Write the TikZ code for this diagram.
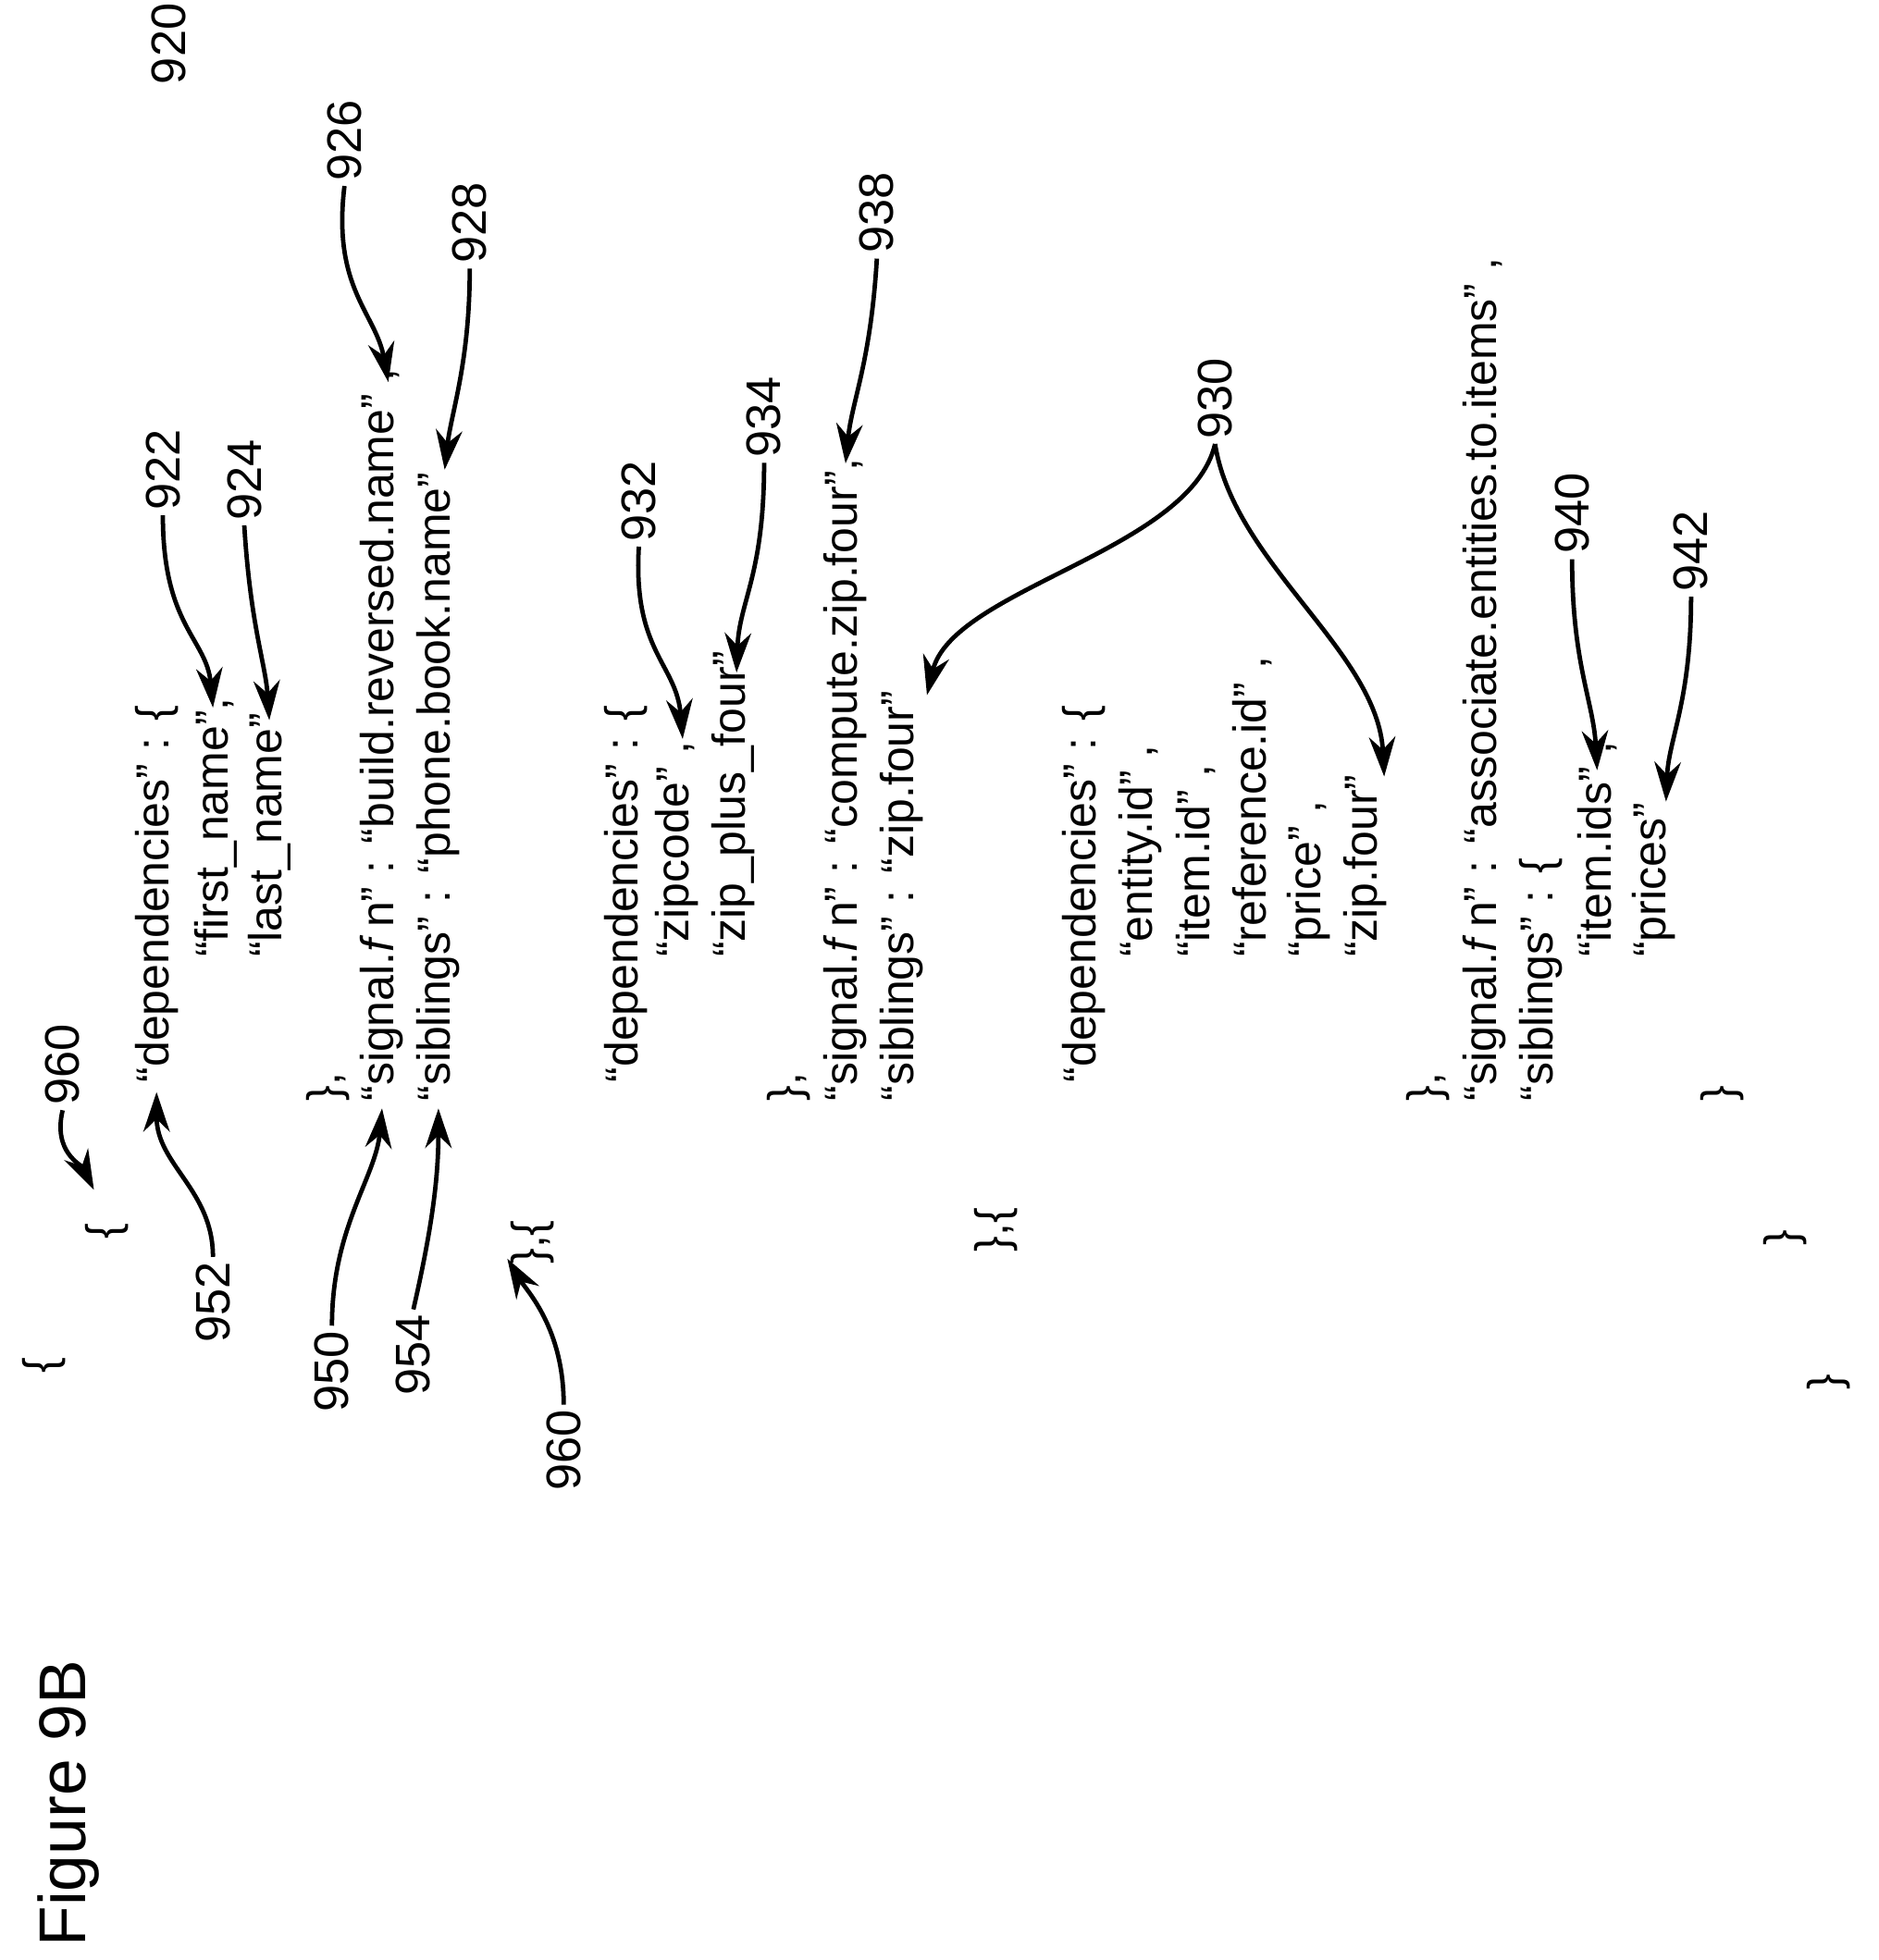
\documentclass[tikz,border=0pt]{standalone}
\usepackage{fontspec}
\setmainfont{Liberation Sans}
\usetikzlibrary{arrows.meta}
\begin{document}
\begin{tikzpicture}[x=0.01cm,y=-0.01cm,
  txt/.style={rotate=90,anchor=west,inner sep=0pt,font=\fontsize{10.5}{12}\selectfont},
  lbl/.style={rotate=90,anchor=center,inner sep=1pt,font=\fontsize{11}{13}\selectfont},
  ptr/.style={-{Stealth[length=9pt,width=6pt]},line width=1pt}]
\useasboundingbox (0,0) rectangle (1500,1565);
\newcommand{\sfn}{\textit{f}\,n}
% code text
\node[txt] (b0) at (35,1097) {\{};
\node[txt] (b1) at (85,990) {\{};
\node[txt] (d1) at (125,865) {“dependencies” : \{};
\node[txt] (fn) at (172,765) {“first\_name”,};
\node[txt] (ln) at (215,765) {“last\_name”};
\node[txt] (c1) at (262,880) {\},};
\node[txt] (s1) at (305,880) {“signal.\sfn” : “build.reversed.name” ,};
\node[txt] (sb1) at (350,880) {“siblings” : “phone.book.name”};
\node[txt] (c2) at (425,1010) {\},\{};
\node[txt] (d2) at (500,865) {“dependencies” : \{};
\node[txt] (zc) at (540,765) {“zipcode” ,};
\node[txt] (zp) at (585,765) {“zip\_plus\_four”};
\node[txt] (c3) at (630,880) {\},};
\node[txt] (s2) at (675,880) {“signal.\sfn” : “compute.zip.four”,};
\node[txt] (sb2) at (720,880) {“siblings” : “zip.four”};
\node[txt] (c4) at (795,1000) {\},\{};
\node[txt] (d3) at (865,865) {“dependencies” : \{};
\node[txt] (ei) at (910,765) {“entity.id” ,};
\node[txt] (ii) at (955,765) {“item.id” ,};
\node[txt] (ri) at (1000,765) {“reference.id” ,};
\node[txt] (pr) at (1045,765) {“price” ,};
\node[txt] (zf) at (1090,765) {“zip.four”};
\node[txt] (c5) at (1140,880) {\},};
\node[txt] (s3) at (1185,880) {“signal.\sfn” : “associate.entities.to.items” ,};
\node[txt] (sb3) at (1230,880) {“siblings” : \{};
\node[txt] (ids) at (1275,765) {“item.ids” ,};
\node[txt] (prs) at (1320,765) {“prices”};
\node[txt] (c6) at (1375,880) {\}};
\node[txt] (c7) at (1425,995) {\}};
\node[txt] (c8) at (1460,1110) {\}};
\node[rotate=90,anchor=west,inner sep=0pt,font=\fontsize{15}{18}\selectfont] (fig) at (55,1555) {Figure 9B};
% labels
\node[lbl] (l920) at (135,35) {920};
\node[lbl] (l926) at (275,112) {926};
\node[lbl] (l928) at (375,178) {928};
\node[lbl] (l922) at (130,375) {922};
\node[lbl] (l924) at (195,383) {924};
\node[lbl] (l932) at (510,400) {932};
\node[lbl] (l934) at (610,333) {934};
\node[lbl] (l938) at (700,170) {938};
\node[lbl] (l930) at (970,318) {930};
\node[lbl] (l940) at (1255,410) {940};
\node[lbl] (l942) at (1350,440) {942};
\node[lbl] (l960a) at (50,850) {960};
\node[lbl] (l952) at (170,1040) {952};
\node[lbl] (l950) at (265,1095) {950};
\node[lbl] (l954) at (330,1082) {954};
\node[lbl] (l960b) at (450,1158) {960};
% arrows
\draw[ptr] (l926.west) .. controls (265,230) and (300,250) .. (310,305);
\draw[ptr] (l928.west) .. controls (375,290) and (360,330) .. (355,375);
\draw[ptr] (l922.west) .. controls (130,500) and (165,510) .. (170,565);
\draw[ptr] (l924.west) .. controls (200,500) and (212,530) .. (215,575);
\draw[ptr] (l932.west) .. controls (505,520) and (540,530) .. (545,590);
\draw[ptr] (l934.west) .. controls (610,460) and (590,480) .. (588,537);
\draw[ptr] (l938.west) .. controls (695,290) and (680,320) .. (675,370);
\draw[ptr] (l930.west) .. controls (950,440) and (760,470) .. (740,555);
\draw[ptr] (l930.west) .. controls (985,450) and (1100,520) .. (1105,620);
\draw[ptr] (l940.west) .. controls (1255,530) and (1272,560) .. (1275,615);
\draw[ptr] (l942.west) .. controls (1350,560) and (1332,590) .. (1330,640);
\draw[ptr] (l960a.west) .. controls (42,920) and (65,930) .. (75,950);
\draw[ptr] (l952.east) .. controls (170,950) and (125,930) .. (125,872);
\draw[ptr] (l950.east) .. controls (265,980) and (300,940) .. (305,885);
\draw[ptr] (l954.east) .. controls (345,980) and (350,940) .. (350,885);
\draw[ptr] (l960b.east) .. controls (450,1060) and (420,1030) .. (405,1005);
\end{tikzpicture}
\end{document}
